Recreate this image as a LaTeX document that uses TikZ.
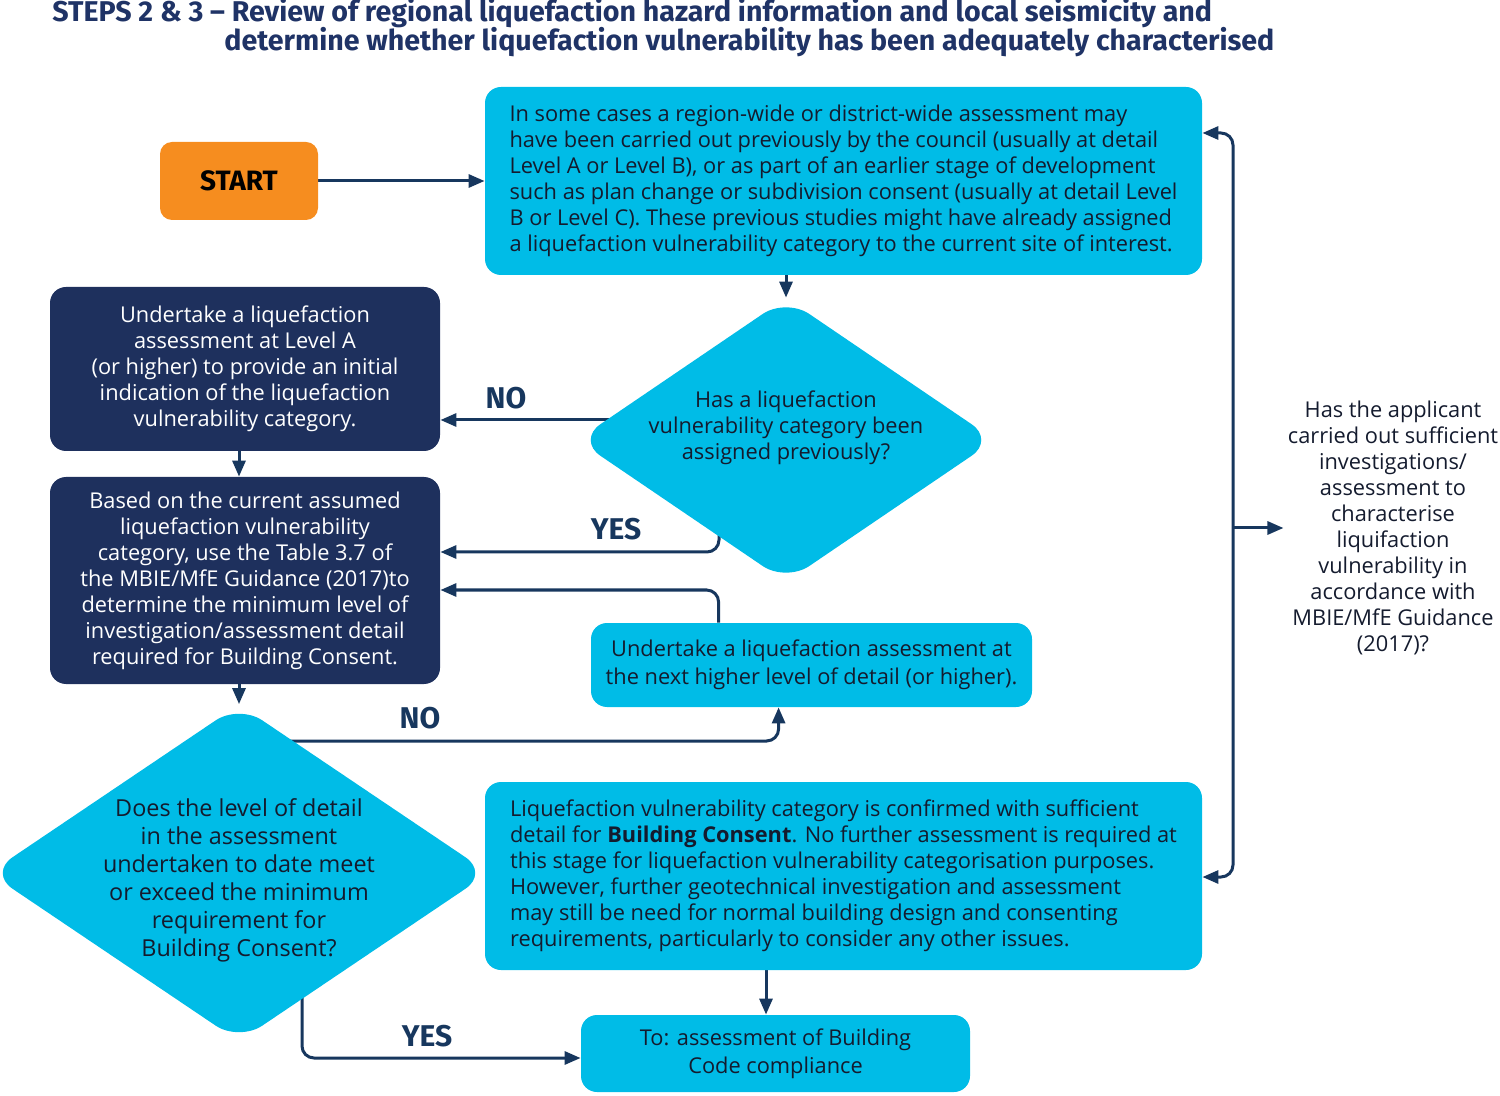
\documentclass[tikz,border=0pt]{standalone}
\usepackage{fontspec}
\setmainfont{Open Sans}
\newfontfamily\titlefont{Fira Sans}
\newfontfamily\fira{Fira Sans}
\usetikzlibrary{arrows.meta,shapes.geometric,calc,backgrounds}
\definecolor{cy}{HTML}{00BCE7}
\definecolor{dk}{HTML}{1E305D}
\definecolor{ar}{HTML}{17375E}
\definecolor{og}{HTML}{F68D1F}
\definecolor{tx}{HTML}{141B2E}
\definecolor{tt}{HTML}{1F3366}
\tikzset{
  con/.style={draw=ar, line width=1.5pt, -{Triangle[length=8pt,width=6.5pt]}, rounded corners=6pt},
  cybox/.style={fill=cy, rounded corners=8pt, inner sep=0pt, text=tx, align=center, font=\fontsize{10.9}{13}\selectfont},
  dkbox/.style={fill=dk, rounded corners=8pt, inner sep=0pt, text=white, align=center, font=\fontsize{10.9}{13}\selectfont},
  dia/.style={diamond, fill=cy, rounded corners=14pt, inner sep=0pt},
  diatext/.style={text=tx, align=center, inner sep=0pt},
  lbl/.style={text=ar, font=\fira\bfseries\fontsize{15}{15}\selectfont},
}
\begin{document}
\begin{tikzpicture}[x=0.5pt,y=-0.5pt]
\useasboundingbox (0,0) rectangle (1500,1096);
% title
\node[anchor=west, inner sep=0pt, text=tt, font=\titlefont\bfseries\fontsize{14.3}{14.3}\selectfont] (t1) at (52,13) {STEPS 2 \& 3 – Review of regional liquefaction hazard information and local seismicity and};
\node[anchor=west, inner sep=0pt, text=tt, font=\titlefont\bfseries\fontsize{14.3}{14.3}\selectfont] (t2) at (224,42) {determine whether liquefaction vulnerability has been adequately characterised};

% nodes
\node[fill=og, rounded corners=6pt, minimum width=79pt, minimum height=39pt, inner sep=0pt, text=black, font=\fira\bfseries\fontsize{14}{14}\selectfont] (start) at (239,181) {START};

\node[cybox, minimum width=358.5pt, minimum height=94pt, align=left] (top) at (843.5,181) {In some cases a region-wide or district-wide assessment may\\
have been carried out previously by the council (usually at detail\\
Level A or Level B), or as part of an earlier stage of development\\
such as plan change or subdivision consent (usually at detail Level\\
B or Level C). These previous studies might have already assigned\\
a liquefaction vulnerability category to the current site of interest.};

\node[dkbox, minimum width=195pt, minimum height=82pt] (dk1) at (245,369) {Undertake a liquefaction\\
assessment at Level A\\
(or higher) to provide an initial\\
indication of the liquefaction\\
vulnerability category.};

\node[dkbox, minimum width=195pt, minimum height=103.5pt] (dk2) at (245,580.5) {Based on the current assumed\\
liquefaction vulnerability\\
category, use the Table 3.7 of\\
the MBIE/MfE Guidance (2017)to\\
determine the minimum level of\\
investigation/assessment detail\\
required for Building Consent.};

\node[dia, minimum width=209pt, minimum height=142pt] (d1) at (786,440) {};
\node[diatext, font=\fontsize{10.9}{13}\selectfont] (d1t) at (786,428) {Has a liquefaction\\
vulnerability category been\\
assigned previously?};

\node[cybox, minimum width=220.5pt, minimum height=42pt, font=\fontsize{10.9}{14}\selectfont] (und) at (811.5,665) {Undertake a liquefaction assessment at\\
the next higher level of detail (or higher).};

\node[dia, minimum width=250pt, minimum height=168.5pt] (d2) at (239,873) {};
\node[diatext, font=\fontsize{11.7}{14}\selectfont] (d2t) at (239,880) {Does the level of detail\\
in the assessment\\
undertaken to date meet\\
or exceed the minimum\\
requirement for\\
Building Consent?};

\node[cybox, minimum width=358.5pt, minimum height=94pt, align=left] (bot) at (843.5,876) {Liquefaction vulnerability category is confirmed with sufficient\\
detail for \textbf{Building Consent}. No further assessment is required at\\
this stage for liquefaction vulnerability categorisation purposes.\\
However, further geotechnical investigation and assessment\\
may still be need for normal building design and consenting\\
requirements, particularly to consider any other issues.};

\node[cybox, minimum width=194.5pt, minimum height=38.5pt, font=\fontsize{10.9}{14}\selectfont] (to) at (775.5,1053.5) {To: assessment of Building\\
Code compliance};

\node[text=tx, align=center, inner sep=2pt, font=\fontsize{10.9}{13}\selectfont] (q) at (1393,528) {Has the applicant\\
carried out sufficient\\
investigations/\\
assessment to\\
characterise\\
liquifaction\\
vulnerability in\\
accordance with\\
MBIE/MfE Guidance\\
(2017)?};

\coordinate (brx) at (1233,528);

% connectors
\begin{scope}[on background layer]
\draw[con] (start.east) -- (start.east -| top.west);
\draw[con] (top.south -| d1.north) -- (d1.north);
\draw[con] ($(d1.center)+(0,-20)$) -- ($(dk1.east)+(0,51)$);
\draw[con] ($(d1.center)+(-67,0)$) |- ($(dk2.east)+(0,-28.5)$);
\draw[con] ($(und.north west)+(128,0)$) |- ($(dk2.east)+(0,9.5)$);
\draw[con] (dk1.south -| d2.north) -- (dk2.north -| d2.north);
\draw[con] (dk2.south -| d2.north) -- (d2.north);
\draw[con] ($(d2.center)+(0,-132)$) -| ($(und.south west)+(188,0)$);
\draw[con] ($(d2.center)+(63,0)$) |- ($(to.west)+(0,4.5)$);
\draw[con] ($(bot.south)+(-77.5,0)$) -- ($(to.north)+(-9.5,0)$);
\draw[con, {Triangle[length=8pt,width=6.5pt]}-{Triangle[length=8pt,width=6.5pt]}] ($(top.east)+(0,-48)$) -| (brx) |- ($(bot.east)+(0,1)$);
\draw[con] (brx) -- (q.west);
\end{scope}

% labels
\node[lbl] (no1) at (506,398) {NO};
\node[lbl] (yes1) at (616,529) {YES};
\node[lbl] (no2) at (420,718) {NO};
\node[lbl] (yes2) at (427,1036) {YES};
\end{tikzpicture}
\end{document}
